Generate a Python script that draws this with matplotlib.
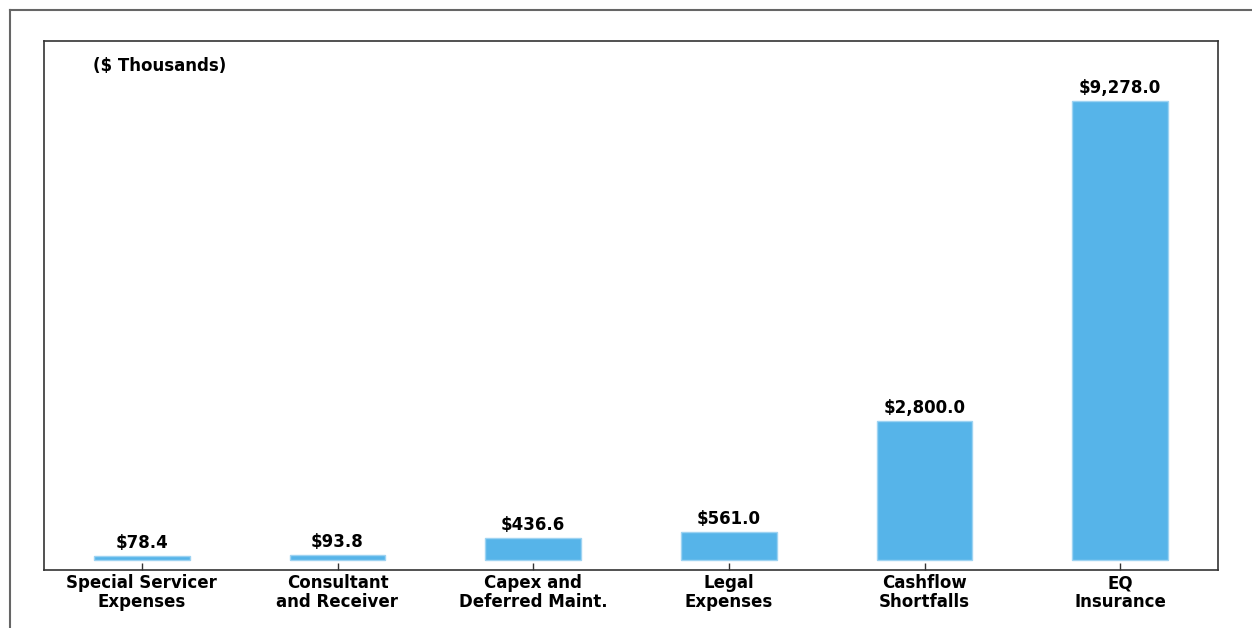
import matplotlib.pyplot as plt
from matplotlib.lines import Line2D

plt.rcParams['font.family'] = ['DejaVu Sans']

categories = ['Special Servicer\nExpenses', 'Consultant\nand Receiver', 'Capex and\nDeferred Maint.',
              'Legal\nExpenses', 'Cashflow\nShortfalls', 'EQ\nInsurance']
values = [78.4, 93.8, 436.6, 561.0, 2800.0, 9278.0]

BAR_COLOR = '#56B4E9'

fig = plt.figure(figsize=(12.52, 6.28), dpi=100)
ax = fig.add_axes([44 / 1252, 1 - 570 / 628, (1218 - 44) / 1252, (570 - 41) / 628])

x = range(len(values))
ax.bar(x, values, width=0.49, color=BAR_COLOR, edgecolor='#9ed3f2', linewidth=1)

for xi, v in zip(x, values):
    ax.annotate('${:,.1f}'.format(v), (xi, v), xytext=(0, 3), textcoords='offset points',
                ha='center', va='bottom', fontsize=12, fontweight='bold')

ax.set_xlim(-0.5, 5.5)
ax.set_ylim(-202, 10490)
ax.set_xticks(list(x))
ax.set_xticklabels(categories, fontsize=12, fontweight='bold', linespacing=1.05)
ax.tick_params(axis='x', direction='in', length=5, width=1, color='#333333', pad=3)
ax.set_yticks([])
for s in ax.spines.values():
    s.set_color('#333333')
    s.set_linewidth(1.2)

ax.text(0.042, 0.953, '($ Thousands)', transform=ax.transAxes, fontsize=12,
        fontweight='bold', ha='left', va='center')

# outer frame of the page
fig.add_artist(Line2D([10 / 1252, 1.0], [1 - 10 / 628, 1 - 10 / 628], transform=fig.transFigure,
                      color='#666666', linewidth=1.5))
fig.add_artist(Line2D([10 / 1252, 10 / 1252], [0, 1 - 10 / 628], transform=fig.transFigure,
                      color='#666666', linewidth=1.5))

fig.savefig('out.png', dpi=100)
